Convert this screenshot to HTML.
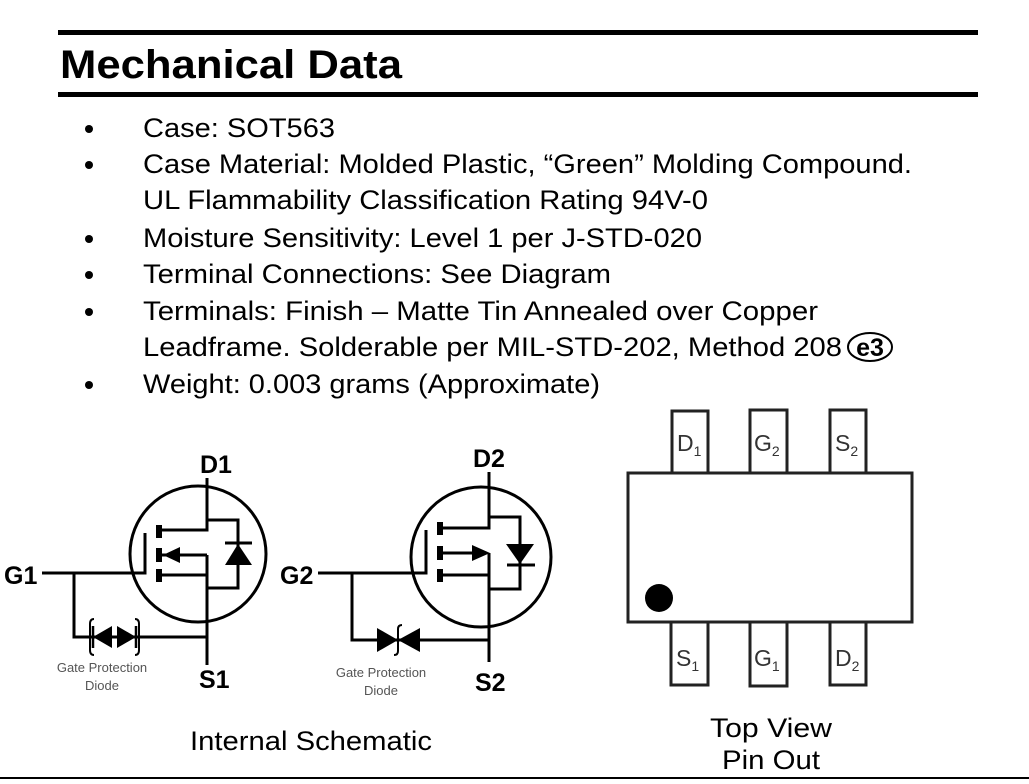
<!DOCTYPE html>
<html><head><meta charset="utf-8"><style>
html,body{margin:0;padding:0;background:#fff;}
svg{display:block;font-family:"Liberation Sans",Arial,sans-serif;}
</style></head><body>
<svg width="1029" height="784" viewBox="0 0 1029 784" xmlns="http://www.w3.org/2000/svg">
<rect width="1029" height="784" fill="#fff"/>
<rect x="58" y="30" width="920" height="5" fill="#000"/>
<text x="60" y="78" font-size="40" font-weight="bold" textLength="342" lengthAdjust="spacingAndGlyphs">Mechanical Data</text>
<rect x="58" y="92" width="920" height="5" fill="#000"/>
<g font-size="27" fill="#000">
<circle cx="89" cy="129" r="4"/><text x="143" y="137" textLength="192" lengthAdjust="spacingAndGlyphs">Case: SOT563</text>
<circle cx="89" cy="165" r="4"/><text x="143" y="173" textLength="769" lengthAdjust="spacingAndGlyphs">Case Material: Molded Plastic, “Green” Molding Compound.</text>
<text x="143" y="209" textLength="565" lengthAdjust="spacingAndGlyphs">UL Flammability Classification Rating 94V-0</text>
<circle cx="89" cy="239" r="4"/><text x="143" y="247" textLength="559" lengthAdjust="spacingAndGlyphs">Moisture Sensitivity: Level 1 per J-STD-020</text>
<circle cx="89" cy="275" r="4"/><text x="143" y="283" textLength="468" lengthAdjust="spacingAndGlyphs">Terminal Connections: See Diagram</text>
<circle cx="89" cy="312" r="4"/><text x="143" y="320" textLength="675" lengthAdjust="spacingAndGlyphs">Terminals: Finish – Matte Tin Annealed over Copper</text>
<text x="143" y="356" textLength="699" lengthAdjust="spacingAndGlyphs">Leadframe. Solderable per MIL-STD-202, Method 208</text>
<circle cx="89" cy="385" r="4"/><text x="143" y="393" textLength="457" lengthAdjust="spacingAndGlyphs">Weight: 0.003 grams (Approximate)</text>
</g>
<ellipse cx="870" cy="347" rx="22" ry="14" fill="none" stroke="#000" stroke-width="2"/>
<text x="870" y="356" font-size="25" font-weight="bold" text-anchor="middle">e3</text>

<!-- Schematic 1 -->
<g stroke="#000" stroke-width="3" fill="none">
<circle cx="198" cy="554" r="68"/>
<polyline points="207,478 207,530 160,530"/>
<line x1="160" y1="555" x2="207" y2="555"/>
<polyline points="160,575 207,575"/>
<line x1="207" y1="555" x2="207" y2="665"/>
<polyline points="207,520 238,520 238,588 207,588"/>
<polyline points="42,573 145,573 145,533"/>
<polyline points="74,573 74,637 207,637"/>
<path d="M94,619 q-4,0 -4,5 v26 q0,5 4,5" stroke-width="2"/>
<path d="M135,619 q4,0 4,5 v26 q0,5 -4,5" stroke-width="2"/>
<line x1="93" y1="626" x2="93" y2="648" stroke-width="2.5"/>
<line x1="136" y1="626" x2="136" y2="648" stroke-width="2.5"/>
<line x1="225" y1="543" x2="252" y2="543"/>
</g>
<g fill="#000">
<rect x="156" y="525" width="6" height="13"/><rect x="156" y="548" width="6" height="14"/><rect x="156" y="569" width="6" height="13"/>
<polygon points="163,555 180,547 180,563"/>
<polygon points="238,544 225,565 252,565"/>
<polygon points="93,637 112,626 112,648"/>
<polygon points="136,637 117,626 117,648"/>
</g>
<g font-weight="bold" font-size="25">
<text x="200" y="473">D1</text>
<text x="4" y="584">G1</text>
<text x="199" y="688">S1</text>
</g>
<g font-size="13" fill="#555" text-anchor="middle">
<text x="102" y="672">Gate Protection</text>
<text x="102" y="690">Diode</text>
</g>

<!-- Schematic 2 -->
<g stroke="#000" stroke-width="3" fill="none">
<circle cx="481" cy="557" r="70"/>
<polyline points="489,472 489,528 442,528"/>
<line x1="442" y1="553" x2="475" y2="553"/>
<polyline points="442,575 489,575"/>
<line x1="489" y1="553" x2="489" y2="662"/>
<polyline points="489,517 520,517 520,589 489,589"/>
<polyline points="318,573 426,573 426,530"/>
<polyline points="352,573 352,640 489,640"/>
<line x1="507" y1="565" x2="535" y2="565"/>
<path d="M402,625 q-4,0 -4,4 v22 q0,4 -4,4" stroke-width="2"/>
</g>
<g fill="#000">
<rect x="437" y="522" width="6" height="13"/><rect x="437" y="546" width="6" height="14"/><rect x="437" y="569" width="6" height="13"/>
<polygon points="490,553 472,545 472,561"/>
<polygon points="520,564 506,544 534,544"/>
<polygon points="398,640 377,628 377,652"/>
<polygon points="398,640 420,628 420,652"/>
</g>
<g font-weight="bold" font-size="25">
<text x="473" y="467">D2</text>
<text x="280" y="584">G2</text>
<text x="475" y="691">S2</text>
</g>
<g font-size="13" fill="#555" text-anchor="middle">
<text x="381" y="677">Gate Protection</text>
<text x="381" y="695">Diode</text>
</g>
<text x="311" y="750" font-size="27" text-anchor="middle" textLength="242" lengthAdjust="spacingAndGlyphs">Internal Schematic</text>

<!-- Package -->
<g stroke="#222" stroke-width="3" fill="#fff">
<rect x="672" y="411" width="36" height="62"/>
<rect x="750" y="410" width="37" height="63"/>
<rect x="830" y="410" width="36" height="63"/>
<rect x="671" y="622" width="37" height="63"/>
<rect x="750" y="622" width="37" height="64"/>
<rect x="830" y="622" width="36" height="63"/>
<rect x="628" y="473" width="284" height="149"/>
</g>
<circle cx="659" cy="598" r="14" fill="#000"/>
<g font-size="23" fill="#333">
<text x="677" y="451">D<tspan font-size="14" dy="5">1</tspan></text>
<text x="754" y="451">G<tspan font-size="14" dy="5">2</tspan></text>
<text x="835" y="451">S<tspan font-size="14" dy="5">2</tspan></text>
<text x="676" y="666">S<tspan font-size="14" dy="5">1</tspan></text>
<text x="754" y="666">G<tspan font-size="14" dy="5">1</tspan></text>
<text x="835" y="666">D<tspan font-size="14" dy="5">2</tspan></text>
</g>
<text x="771" y="737" font-size="27" text-anchor="middle" textLength="122" lengthAdjust="spacingAndGlyphs">Top View</text>
<text x="771" y="769" font-size="27" text-anchor="middle" textLength="98" lengthAdjust="spacingAndGlyphs">Pin Out</text>
<rect x="0" y="777" width="1029" height="2" fill="#000"/>
</svg>
</body></html>
